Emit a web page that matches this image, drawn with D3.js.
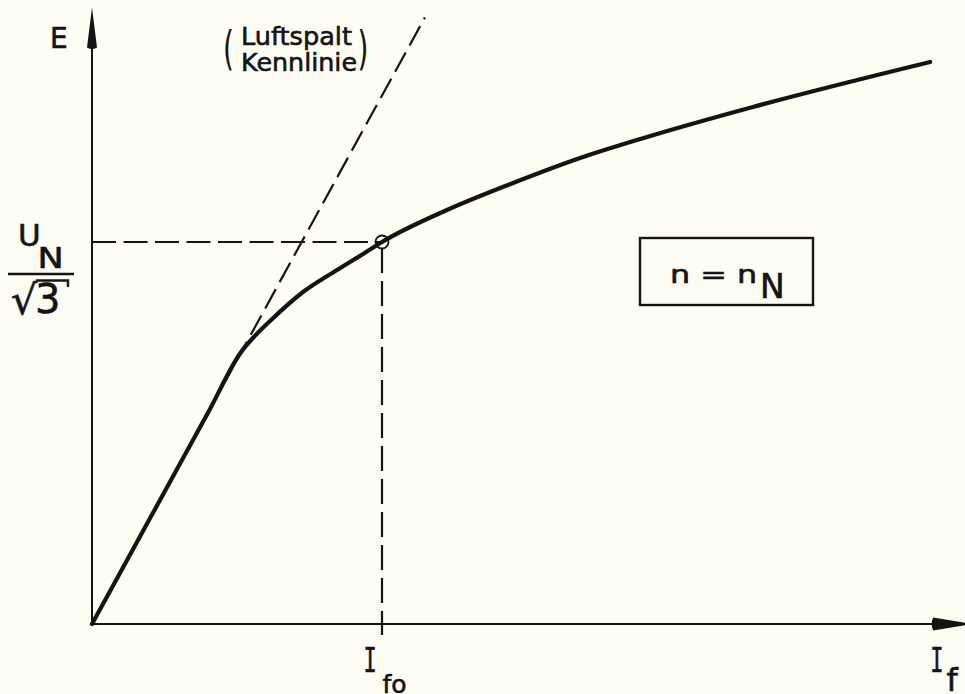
<!DOCTYPE html>
<html>
<head>
<meta charset="utf-8">
<script src="https://cdn.jsdelivr.net/npm/d3@7"></script>
<style>
  html, body { margin: 0; padding: 0; background: #fdfdf4; }
  svg { display: block; }
  text { font-family: "DejaVu Sans", sans-serif; fill: #141414; stroke: #141414; stroke-width: 0.6px; }
</style>
</head>
<body>
<svg id="chart" width="965" height="694"></svg>
<script>
// No-load characteristic E(I_f) at rated speed, in per-unit of the operating point
// (I_f0, U_N/sqrt3) = (1, 1).
const fieldCurrent = [0, 0.20, 0.40, 0.517, 0.555, 0.614, 0.7276, 0.8448, 0.9345, 1.0, 1.224, 1.452, 1.683, 1.914, 2.279, 2.89];
const emf          = [0, 0.2766, 0.5532, 0.715, 0.7487, 0.7932, 0.8691, 0.9267, 0.9686, 1.0, 1.0838, 1.1545, 1.2199, 1.2749, 1.3534, 1.4712];

// Air-gap line (linear part of the characteristic)
const airGapIf = [0, 1.148];
const airGapE  = [0, 1.588];

// Rated operating point
const operatingIf = [1];
const operatingE  = [1];

// Axis extents
const axisIfMax = [2.99];
const axisEMax  = [1.614];

const svg = d3.select("#chart");
const ink = "#141414";

const x = d3.scaleLinear().domain([0, 1]).range([92, 382]);
const y = d3.scaleLinear().domain([0, 1]).range([624, 242]);

function label(parent, txt, size, opts = {}) {
  const t = parent.append("text").text(txt).style("font-size", size + "px");
  if (opts.x !== undefined) t.attr("x", opts.x);
  if (opts.y !== undefined) t.attr("y", opts.y);
  if (opts.transform) t.attr("transform", opts.transform);
  if (opts.family) t.style("font-family", opts.family);
  if (opts.length) t.attr("textLength", opts.length).attr("lengthAdjust", "spacingAndGlyphs");
  if (opts.thin) t.style("stroke-width", "0px");
  return t;
}

// Axes
svg.append("line")
  .attr("x1", x(0)).attr("y1", y(0))
  .attr("x2", x(axisIfMax[0]) - 20).attr("y2", y(0))
  .attr("stroke", ink).attr("stroke-width", 2);
svg.append("line")
  .attr("x1", x(0)).attr("y1", y(0))
  .attr("x2", x(0)).attr("y2", y(axisEMax[0]) + 20)
  .attr("stroke", ink).attr("stroke-width", 2);

// Arrow heads
const xe = x(axisIfMax[0]), ye = y(0);
svg.append("path")
  .attr("d", `M${xe - 26},${ye - 6.5} L${xe + 14},${ye} L${xe - 26},${ye + 6.5} Q${xe - 29},${ye} ${xe - 26},${ye - 6.5}Z`)
  .attr("fill", ink);
const yx = x(0), yt = y(axisEMax[0]);
svg.append("path")
  .attr("d", `M${yx},${yt} L${yx + 5},${yt + 40} Q${yx},${yt + 43} ${yx - 5},${yt + 40}Z`)
  .attr("fill", ink);

// Reference lines to the operating point
svg.append("line")
  .attr("x1", x(0)).attr("y1", y(operatingE[0]))
  .attr("x2", x(operatingIf[0])).attr("y2", y(operatingE[0]))
  .attr("stroke", ink).attr("stroke-width", 2.2)
  .attr("stroke-dasharray", "24,7.5");
svg.append("line")
  .attr("x1", x(operatingIf[0])).attr("y1", y(operatingE[0]))
  .attr("x2", x(operatingIf[0])).attr("y2", y(0))
  .attr("stroke", ink).attr("stroke-width", 2.2)
  .attr("stroke-dasharray", "25,8")
  .attr("stroke-dashoffset", -6);
// tick below the abscissa
svg.append("line")
  .attr("x1", x(operatingIf[0])).attr("y1", y(0))
  .attr("x2", x(operatingIf[0])).attr("y2", y(0) + 11)
  .attr("stroke", ink).attr("stroke-width", 2.2);

// Air-gap line (dashed)
svg.append("line")
  .attr("x1", x(airGapIf[0])).attr("y1", y(airGapE[0]))
  .attr("x2", x(airGapIf[1])).attr("y2", y(airGapE[1]))
  .attr("stroke", ink).attr("stroke-width", 2.2)
  .attr("stroke-dasharray", "22,8");

// Characteristic curve
const pts = fieldCurrent.map((v, i) => [v, emf[i]]);
const line = d3.line().x(d => x(d[0])).y(d => y(d[1])).curve(d3.curveMonotoneX);
svg.append("path")
  .attr("d", line(pts))
  .attr("fill", "none").attr("stroke", ink)
  .attr("stroke-width", 4.2).attr("stroke-linecap", "round").attr("stroke-linejoin", "round");

// Operating point marker
svg.append("circle")
  .attr("cx", x(operatingIf[0])).attr("cy", y(operatingE[0])).attr("r", 6.5)
  .attr("fill", "none").attr("stroke", ink).attr("stroke-width", 1.8);

// ---- Labels ----
label(svg, "E", 28, { x: 50, y: 48 });

// Air-gap line caption
label(svg, "Luftspalt", 24.5, { x: 241, y: 45, length: 111 });
label(svg, "Kennlinie", 24.5, { x: 241, y: 71, length: 116 });
label(svg, "(", 28, { transform: "translate(223,63.7) scale(1,1.68)", thin: true });
label(svg, ")", 28, { transform: "translate(357.5,63.7) scale(1,1.68)", thin: true });

// U_N / sqrt(3) on the ordinate
const e0 = y(operatingE[0]);
const eLab = svg.append("g");
label(eLab, "U", 31, { x: 18, y: e0 + 4 });
label(eLab, "N", 28, { transform: `translate(37.5,${e0 + 26}) scale(1.25,1)` });
eLab.append("line").attr("x1", 8).attr("x2", 74)
  .attr("y1", e0 + 32).attr("y2", e0 + 32)
  .attr("stroke", ink).attr("stroke-width", 2.4);
label(eLab, "\u221A", 41, { x: 11, y: e0 + 72 });
label(eLab, "3", 40, { x: 35, y: e0 + 71 });
eLab.append("path")
  .attr("d", `M36,${e0 + 38.5} L68,${e0 + 38.5} L68,${e0 + 45}`)
  .attr("fill", "none").attr("stroke", ink).attr("stroke-width", 2.4);

// I_f0 on the abscissa
const mono = "'DejaVu Sans Mono', monospace";
label(svg, "I", 34, { transform: `translate(${x(operatingIf[0]) - 18.6},672) scale(0.65,1)`, family: mono });
label(svg, "fo", 25, { x: x(operatingIf[0]) + 0.5, y: 693 });

// I_f axis title
label(svg, "I", 34, { transform: "translate(930.3,672) scale(0.65,1)", family: mono });
label(svg, "f", 32, { x: 946.5, y: 691 });

// Speed annotation box
svg.append("rect").attr("x", 640).attr("y", 238).attr("width", 173).attr("height", 67)
  .attr("fill", "none").attr("stroke", ink).attr("stroke-width", 2.4);
label(svg, "n = n", 25, { x: 670, y: 283, length: 87 });
label(svg, "N", 33, { x: 760, y: 298 });
</script>
</body>
</html>
